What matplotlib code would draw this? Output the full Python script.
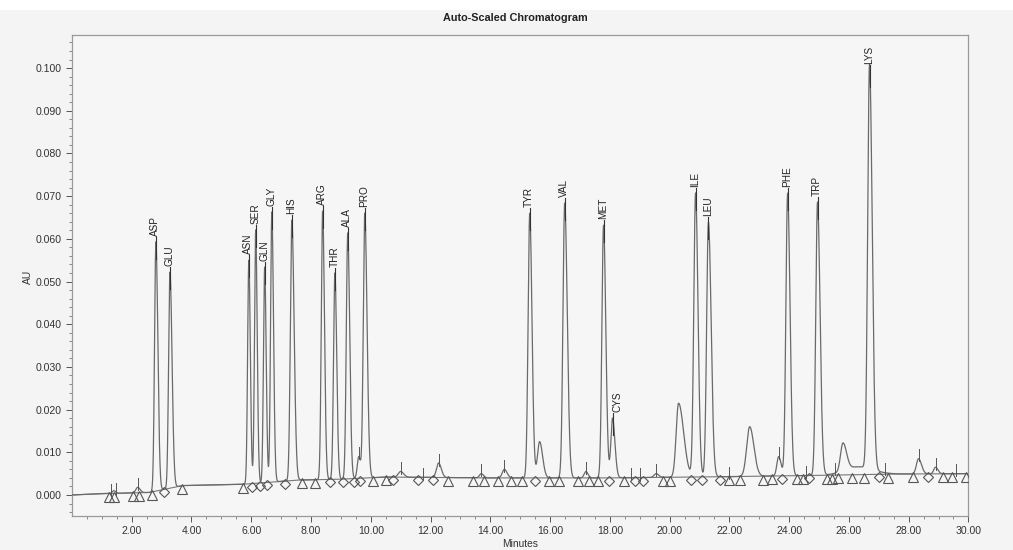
import numpy as np
import matplotlib
matplotlib.use("Agg")
import matplotlib.pyplot as plt
from matplotlib.patches import Rectangle

plt.rcParams['font.family'] = ['Liberation Sans', 'DejaVu Sans']

# ---------------- data ----------------
# labelled peaks: name, retention time (min), apex absorbance (AU)
peak_names = ["ASP", "GLU", "ASN", "SER", "GLN", "GLY", "HIS", "ARG", "THR", "ALA",
              "PRO", "TYR", "VAL", "MET", "CYS", "ILE", "LEU", "PHE", "TRP", "LYS"]
peak_times = [2.81, 3.28, 5.92, 6.15, 6.45, 6.69, 7.36, 8.39, 8.80, 9.23,
              9.80, 15.32, 16.49, 17.79, 18.09, 20.87, 21.30, 23.95, 24.95, 26.69]
peak_apex = [0.0593, 0.0522, 0.0550, 0.0621, 0.0534, 0.0663, 0.0644, 0.0665, 0.0520, 0.0614,
             0.0660, 0.0660, 0.0684, 0.0632, 0.0180, 0.0707, 0.0639, 0.0707, 0.0686, 0.0995]
peak_sigma_left = [0.045, 0.045, 0.040, 0.040, 0.040, 0.042, 0.050, 0.045, 0.045, 0.048,
                   0.050, 0.055, 0.058, 0.055, 0.055, 0.060, 0.060, 0.058, 0.058, 0.062]
peak_sigma_right = [0.065, 0.070, 0.050, 0.050, 0.050, 0.055, 0.075, 0.060, 0.060, 0.065,
                    0.075, 0.075, 0.085, 0.075, 0.080, 0.080, 0.090, 0.080, 0.085, 0.090]
# horizontal nudge of label text (min) where the reference sets it aside
label_shift = [0, 0, 0, 0, 0, 0, 0, 0, 0, 0,
               0, 0, 0, 0, 0.2, 0, 0, 0, 0, 0]

# unlabelled minor peaks: time, apex (AU), sigma left, sigma right
minor_times = [1.40, 2.20, 9.60, 11.00, 12.27, 13.70, 14.47, 15.65, 17.20, 19.55,
               20.30, 22.68, 23.65, 25.80, 26.30, 28.33, 28.90]
minor_apex = [0.0010, 0.0018, 0.0090, 0.0055, 0.0075, 0.0050, 0.0060, 0.0125, 0.0055, 0.0050,
              0.0215, 0.0160, 0.0090, 0.0112, 0.0066, 0.0085, 0.0065]
minor_sigma_left = [0.05, 0.06, 0.05, 0.08, 0.07, 0.06, 0.07, 0.07, 0.06, 0.07,
                    0.08, 0.10, 0.06, 0.08, 0.45, 0.07, 0.06]
minor_sigma_right = [0.06, 0.08, 0.06, 0.10, 0.09, 0.07, 0.09, 0.10, 0.07, 0.08,
                     0.17, 0.14, 0.08, 0.12, 0.50, 0.10, 0.08]

# baseline knots (min, AU)
base_times = [0.0, 1.0, 2.6, 3.7, 5.7, 7.6, 9.0, 10.5, 14.0, 18.0, 22.0, 25.0, 27.5, 30.0]
base_values = [0.0000, 0.0003, 0.0006, 0.0022, 0.0025, 0.0035, 0.0037, 0.0042, 0.0040,
               0.0040, 0.0043, 0.0046, 0.0049, 0.0050]

# integration start/end markers
triangle_times = [1.24, 1.41, 2.03, 2.25, 2.67, 3.68, 5.73, 7.69, 8.13, 10.07, 10.50, 12.57,
                  13.41, 13.78, 14.25, 14.68, 15.05, 15.95, 16.29, 16.92, 17.29, 17.59, 18.46,
                  19.77, 20.03, 22.00, 22.37, 23.11, 23.44, 24.25, 24.48, 25.28, 25.45, 25.65,
                  26.12, 26.49, 27.32, 28.16, 29.16, 29.46, 29.93]
diamond_times = [3.08, 6.04, 6.31, 6.54, 7.12, 8.63, 9.06, 9.43, 9.63, 10.73, 11.57, 12.07,
                 15.49, 17.96, 18.83, 19.10, 20.70, 21.10, 21.70, 23.75, 24.65, 27.02, 28.66]

# small apex tick marks of unlabelled peaks
apex_tick_times = [1.30, 1.48, 2.20, 9.60, 11.00, 11.75, 12.27, 13.70, 14.47, 17.20, 18.70,
                   19.00, 19.55, 22.00, 23.65, 24.55, 25.55, 27.20, 28.33, 28.90, 29.60]

x_major = [2, 4, 6, 8, 10, 12, 14, 16, 18, 20, 22, 24, 26, 28, 30]
y_major = [0.000, 0.010, 0.020, 0.030, 0.040, 0.050, 0.060, 0.070, 0.080, 0.090, 0.100]

# ---------------- build trace ----------------
t = np.linspace(0, 30, 12001)
baseline = np.interp(t, base_times, base_values)


def asym_peak(tt, t0, h, sl, sr):
    s = np.where(tt < t0, sl, sr)
    return h * np.exp(-0.5 * ((tt - t0) / s) ** 2)


signal = baseline.copy()
for t0, a, sl, sr in zip(peak_times, peak_apex, peak_sigma_left, peak_sigma_right):
    h = a - np.interp(t0, base_times, base_values)
    signal += asym_peak(t, t0, h, sl, sr)
for t0, a, sl, sr in zip(minor_times, minor_apex, minor_sigma_left, minor_sigma_right):
    h = a - np.interp(t0, base_times, base_values)
    signal += asym_peak(t, t0, h, sl, sr)

# ---------------- figure ----------------
fig = plt.figure(figsize=(10.13, 5.5), dpi=100, facecolor='#f4f4f4')
fig.patches.append(Rectangle((0, 0.982), 1, 0.018, transform=fig.transFigure,
                             facecolor='white', edgecolor='none', zorder=0))
ax = fig.add_axes([0.071, 0.062, 0.885, 0.874])
ax.set_facecolor('#f6f6f6')

line_col = '#6a6a6a'
ax.plot(base_times, base_values, color='#777777', lw=0.8, zorder=2)
ax.plot(t, signal, color=line_col, lw=0.9, zorder=3)

# markers slightly below baseline
tri_y = np.interp(triangle_times, base_times, base_values) - 0.0008
dia_y = np.interp(diamond_times, base_times, base_values) - 0.0007
ax.plot(triangle_times, tri_y, linestyle='none', marker='^', markersize=7,
        markerfacecolor='none', markeredgecolor='#555555', markeredgewidth=0.8, zorder=4)
ax.plot(diamond_times, dia_y, linestyle='none', marker='D', markersize=5,
        markerfacecolor='none', markeredgecolor='#555555', markeredgewidth=0.8, zorder=4)

# apex ticks for small peaks
for tt in apex_tick_times:
    yv = np.interp(tt, t, signal)
    ax.plot([tt, tt], [yv - 0.0006, yv + 0.0022], color='#555555', lw=0.7, zorder=4)

# labels with short leader line
for name, t0, a, dx in zip(peak_names, peak_times, peak_apex, label_shift):
    ax.plot([t0, t0], [a - 0.004, a + 0.0012], color='#333333', lw=0.8, zorder=5)
    ax.text(t0 - 0.02 + dx, a + 0.0014, name, rotation=90, ha='center', va='bottom',
            fontsize=7.2, color='#222222', zorder=6)

ax.set_xlim(0, 30)
ax.set_ylim(-0.0049, 0.1077)
ax.set_xticks(x_major)
ax.set_xticklabels([f"{v:.2f}" for v in x_major])
ax.set_xticks(np.arange(0.5, 30, 0.5), minor=True)
ax.set_yticks(y_major)
ax.set_yticklabels([f"{v:.3f}" for v in y_major])
ax.set_yticks(np.arange(-0.004, 0.107, 0.002), minor=True)

ax.tick_params(axis='both', which='major', labelsize=7.6, colors='#555555',
               labelcolor='#333333', length=4, width=0.7, direction='out')
ax.tick_params(axis='both', which='minor', colors='#777777', length=2.5, width=0.6,
               direction='out')
for side in ['left', 'bottom', 'top', 'right']:
    ax.spines[side].set_color('#9a9a9a')
    ax.spines[side].set_linewidth(0.9)

ax.set_xlabel("Minutes", fontsize=7.4, color='#333333', labelpad=2)
fig.text(28 / 1013, 1 - 277 / 550, "AU", rotation=90, ha='center', va='center',
         fontsize=7.4, color='#333333')
fig.text(0.509, 0.967, "Auto-Scaled Chromatogram", ha='center', va='center',
         fontsize=7.8, fontweight='bold', color='#222222')

fig.savefig("out.png", dpi=100, facecolor=fig.get_facecolor())
